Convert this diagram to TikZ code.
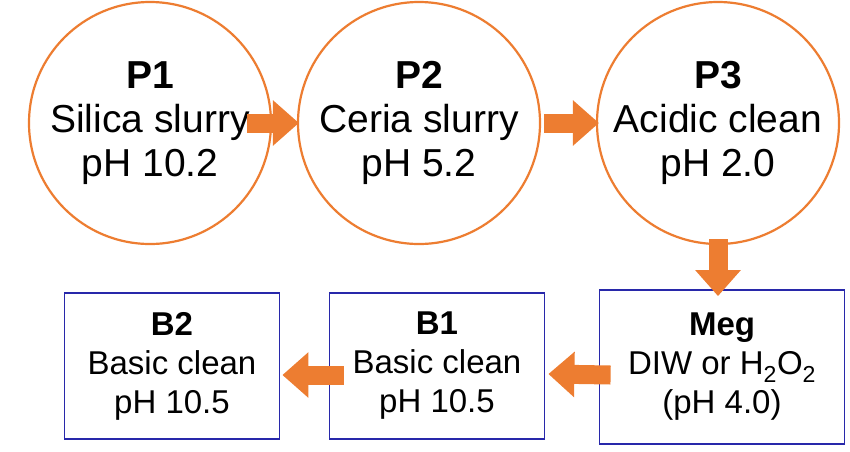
\documentclass[tikz,border=0pt]{standalone}
\usepackage{fontspec}
\setmainfont{Liberation Sans}
\usetikzlibrary{arrows.meta}
\definecolor{org}{RGB}{237,125,49}
\definecolor{blu}{RGB}{40,40,170}
\begin{document}
\begin{tikzpicture}[x=1pt,y=-1pt,
  circ/.style={circle,draw=org,line width=2.2pt,fill=white,minimum size=242pt,inner sep=0pt,align=center,font=\fontsize{39}{44}\selectfont},
  box/.style={rectangle,draw=blu,line width=1.8pt,fill=white,align=center,inner sep=0pt,font=\fontsize{33}{39}\selectfont},
  arr/.style={org,line width=19pt,-{Triangle[width=44pt,length=26pt]}}]
\useasboundingbox (0,0) rectangle (850,451);
\node[circ] (p1) at (150,123) {\textbf{P1}\\Silica slurry\\pH 10.2};
\node[circ] (p2) at (419,123) {\textbf{P2}\\Ceria slurry\\pH 5.2};
\node[circ] (p3) at (718,123) {\textbf{P3}\\Acidic clean\\pH 2.0};
\node[box,minimum width=245pt,minimum height=154pt] (meg) at (722,367) {\textbf{Meg}\\DIW or H\textsubscript{2}O\textsubscript{2}\\(pH 4.0)};
\node[box,minimum width=215pt,minimum height=146pt] (b1) at (437,366) {\textbf{B1}\\Basic clean\\pH 10.5};
\node[box,minimum width=215pt,minimum height=146pt] (b2) at (172,366) {\textbf{B2}\\Basic clean\\pH 10.5};
\draw[arr] ([xshift=-25pt]p1.east) -- ([xshift=2pt]p2.west);
\draw[arr] ([xshift=3pt]p2.east) -- ([xshift=3pt]p3.west);
\draw[arr] ([yshift=6pt]p3.south) -- ([yshift=-7pt,xshift=-4pt]meg.north);
\draw[arr] ([yshift=-8pt,xshift=12pt]meg.west) -- ([yshift=-8pt,xshift=3pt]b1.east);
\draw[arr] ([yshift=-9pt,xshift=15pt]b1.west) -- ([yshift=-9pt,xshift=2pt]b2.east);
\end{tikzpicture}
\end{document}
